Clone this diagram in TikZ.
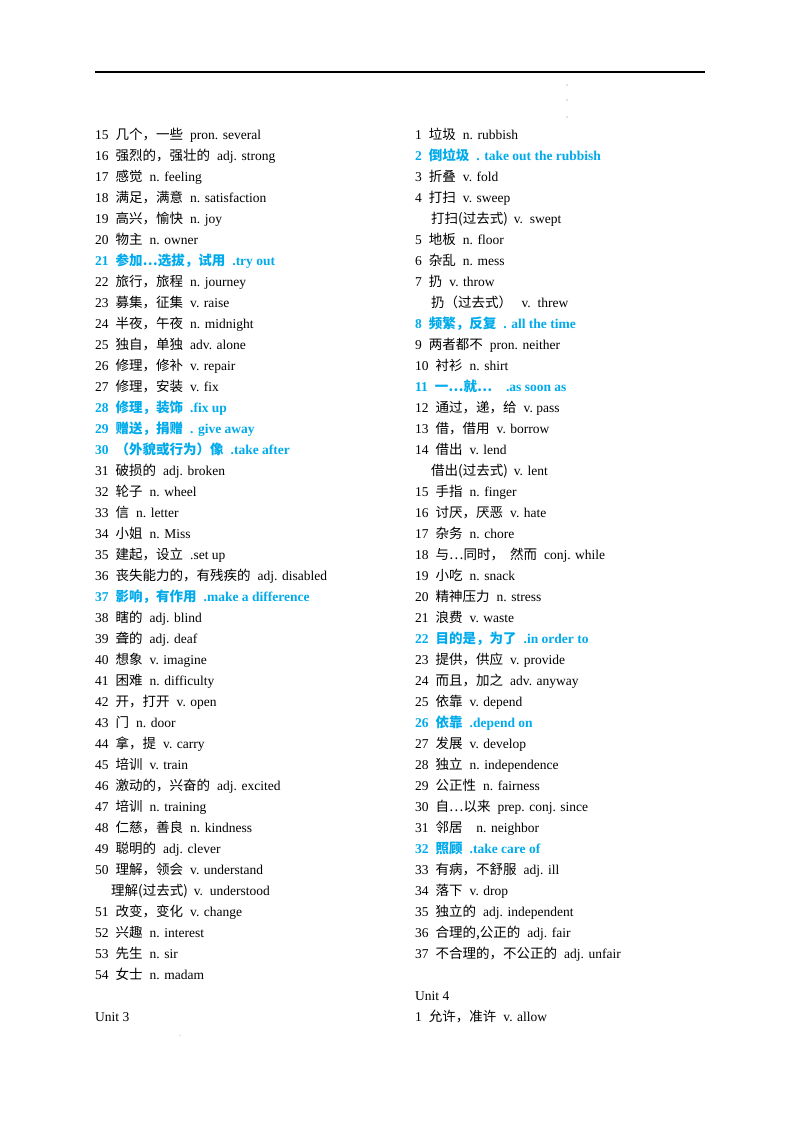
\documentclass[tikz,border=0pt]{standalone}
\usepackage{fontspec}
\setmainfont{Liberation Serif}
\newfontfamily\cjk{Noto Sans CJK SC}
\definecolor{vb}{RGB}{0,170,235}
\newcount\ln
\def\cx{95}
\newcommand\C[1]{{\cjk #1}}
\tikzset{t/.style={anchor=base west,inner sep=0pt,font=\fontsize{13.5}{16}\selectfont},
 bl/.style={t,text=vb,font=\fontsize{13.5}{16}\selectfont\bfseries}}
\newcommand\Put[3]{\node[#1] (n\cx-\the\ln) at (#2,{139+21*\ln}) {#3};\global\advance\ln1 }
\newcommand\Lw[3]{\Put{t}{\cx}{#1\hspace{7pt}\C{#2}\hspace{7pt}#3}}
\newcommand\Bw[3]{\Put{bl}{\cx}{#1\hspace{7pt}\C{\bfseries #2}\hspace{7pt}#3}}
\newcommand\Xw[2]{\Put{t}{\cx+16}{\C{#1}\hspace{6pt}#2}}
\begin{document}
\begin{tikzpicture}[x=1pt,y=-1pt]
\useasboundingbox (0,0) rectangle (800,1132);
\coordinate (ra) at (95,72); \coordinate (rb) at (705,72);
\draw[line width=1.2pt] (ra) -- (rb);
\foreach \yy in {85,100,117} \fill[gray] (567,\yy) circle (0.6);
\fill[gray] (180,1035) circle (0.5);
\global\ln=0 \def\cx{95}
\Lw{15}{几个，一些}{pron. several}
\Lw{16}{强烈的，强壮的}{adj. strong}
\Lw{17}{感觉}{n. feeling}
\Lw{18}{满足，满意}{n. satisfaction}
\Lw{19}{高兴，愉快}{n. joy}
\Lw{20}{物主}{n. owner}
\Bw{21}{参加…选拔，试用}{.try out}
\Lw{22}{旅行，旅程}{n. journey}
\Lw{23}{募集，征集}{v. raise}
\Lw{24}{半夜，午夜}{n. midnight}
\Lw{25}{独自，单独}{adv. alone}
\Lw{26}{修理，修补}{v. repair}
\Lw{27}{修理，安装}{v. fix}
\Bw{28}{修理，装饰}{.fix up}
\Bw{29}{赠送，捐赠}{. give away}
\Bw{30}{（外貌或行为）像}{.take after}
\Lw{31}{破损的}{adj. broken}
\Lw{32}{轮子}{n. wheel}
\Lw{33}{信}{n. letter}
\Lw{34}{小姐}{n. Miss}
\Lw{35}{建起，设立}{.set up}
\Lw{36}{丧失能力的，有残疾的}{adj. disabled}
\Bw{37}{影响，有作用}{.make a difference}
\Lw{38}{瞎的}{adj. blind}
\Lw{39}{聋的}{adj. deaf}
\Lw{40}{想象}{v. imagine}
\Lw{41}{困难}{n. difficulty}
\Lw{42}{开，打开}{v. open}
\Lw{43}{门}{n. door}
\Lw{44}{拿，提}{v. carry}
\Lw{45}{培训}{v. train}
\Lw{46}{激动的，兴奋的}{adj. excited}
\Lw{47}{培训}{n. training}
\Lw{48}{仁慈，善良}{n. kindness}
\Lw{49}{聪明的}{adj. clever}
\Lw{50}{理解，领会}{v. understand}
\Xw{理解(过去式)}{v.\ \ understood}
\Lw{51}{改变，变化}{v. change}
\Lw{52}{兴趣}{n. interest}
\Lw{53}{先生}{n. sir}
\Lw{54}{女士}{n. madam}
\global\advance\ln1
\Put{t}{\cx}{Unit 3}
\global\ln=0 \def\cx{415}
\Lw{1}{垃圾}{n. rubbish}
\Bw{2}{倒垃圾}{. take out the rubbish}
\Lw{3}{折叠}{v. fold}
\Lw{4}{打扫}{v. sweep}
\Xw{打扫(过去式)}{v.\ \ swept}
\Lw{5}{地板}{n. floor}
\Lw{6}{杂乱}{n. mess}
\Lw{7}{扔}{v. throw}
\Xw{扔（过去式）}{\ v.\ \ threw}
\Bw{8}{频繁，反复}{. all the time}
\Lw{9}{两者都不}{pron. neither}
\Lw{10}{衬衫}{n. shirt}
\Bw{11}{一…就…}{\ \ .as soon as}
\Lw{12}{通过，递，给}{v.\ pass}
\Lw{13}{借，借用}{v. borrow}
\Lw{14}{借出}{v. lend}
\Xw{借出(过去式)}{v. lent}
\Lw{15}{手指}{n. finger}
\Lw{16}{讨厌，厌恶}{v. hate}
\Lw{17}{杂务}{n. chore}
\Lw{18}{与…同时，\ \ 然而}{conj. while}
\Lw{19}{小吃}{n. snack}
\Lw{20}{精神压力}{n. stress}
\Lw{21}{浪费}{v. waste}
\Bw{22}{目的是，为了}{.in order to}
\Lw{23}{提供，供应}{v. provide}
\Lw{24}{而且，加之}{adv. anyway}
\Lw{25}{依靠}{v. depend}
\Bw{26}{依靠}{.depend on}
\Lw{27}{发展}{v. develop}
\Lw{28}{独立}{n. independence}
\Lw{29}{公正性}{n. fairness}
\Lw{30}{自…以来}{prep. conj. since}
\Lw{31}{邻居}{\ \ n. neighbor}
\Bw{32}{照顾}{.take care of}
\Lw{33}{有病，不舒服}{adj. ill}
\Lw{34}{落下}{v. drop}
\Lw{35}{独立的}{adj. independent}
\Lw{36}{合理的,公正的}{adj. fair}
\Lw{37}{不合理的，不公正的}{adj. unfair}
\global\advance\ln1
\Put{t}{\cx}{Unit 4}
\Lw{1}{允许，准许}{v. allow}
\end{tikzpicture}
\end{document}
